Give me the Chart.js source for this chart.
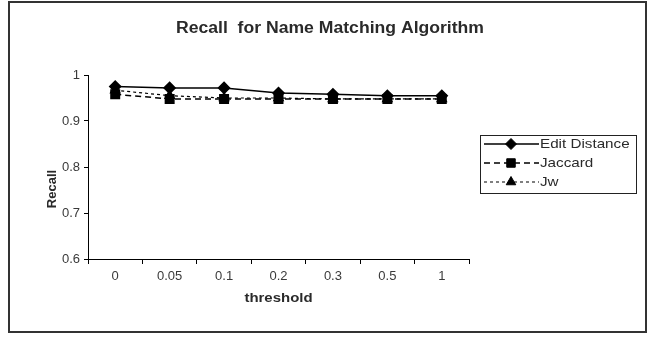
<!DOCTYPE html>
<html>
<head>
<meta charset="utf-8">
<script src="https://cdn.jsdelivr.net/npm/chart.js@4.4.1/dist/chart.umd.min.js"></script>
<style>
  html, body { margin: 0; padding: 0; background: #fff; }
  #wrap { position: relative; width: 652px; height: 337px; }
</style>
</head>
<body>
<div id="wrap"><canvas id="c" width="652" height="337"></canvas></div>
<script>
// Threshold categories and recall per algorithm
const thresholds = ['0', '0.05', '0.1', '0.2', '0.3', '0.5', '1'];
const editDistance = [0.975, 0.972, 0.972, 0.961, 0.958, 0.955, 0.955];
const jaccard      = [0.958, 0.948, 0.948, 0.948, 0.948, 0.948, 0.948];
const jw           = [0.967, 0.955, 0.950, 0.950, 0.948, 0.948, 0.948];
const recallTicks  = [0.6, 0.7, 0.8, 0.9, 1];

const FONT = 'Liberation Sans, Arial, sans-serif';
const TEXT = '#2a2a2a';

// Draws text a little wider than the font's natural width
function wideText(ctx, text, x, y, sx) {
  ctx.save();
  ctx.translate(x, y);
  ctx.scale(sx, 1);
  ctx.fillText(text, 0, 0);
  ctx.restore();
}

// Frame, title, axis titles and the boxed legend
const decorations = {
  id: 'decorations',
  afterDraw(chart) {
    const ctx = chart.ctx;
    const area = chart.chartArea;
    ctx.save();
    // outer frame
    ctx.strokeStyle = '#333';
    ctx.lineWidth = 2;
    ctx.strokeRect(9, 2, 637, 330);

    // title
    ctx.fillStyle = TEXT;
    ctx.font = 'bold 16px ' + FONT;
    ctx.textAlign = 'center';
    ctx.textBaseline = 'middle';
    wideText(ctx, 'Recall  for Name Matching Algorithm', 330, 29, 1.1);

    // x title
    ctx.font = 'bold 13px ' + FONT;
    wideText(ctx, 'threshold', (area.left + area.right) / 2, 298, 1.15);

    // y title
    ctx.save();
    ctx.translate(52, 189);
    ctx.rotate(-Math.PI / 2);
    ctx.fillText('Recall', 0, 0);
    ctx.restore();

    // legend
    ctx.lineWidth = 1;
    ctx.strokeStyle = '#222';
    ctx.strokeRect(480.5, 135.5, 156, 58);
    const rows = [144, 163, 182];
    chart.data.datasets.forEach((ds, i) => {
      const y = rows[i];
      ctx.save();
      ctx.strokeStyle = '#000';
      ctx.lineWidth = ds.borderWidth;
      ctx.setLineDash(ds.borderDash || []);
      ctx.beginPath();
      ctx.moveTo(484, y);
      ctx.lineTo(539, y);
      ctx.stroke();
      ctx.restore();
      ctx.fillStyle = '#000';
      ctx.strokeStyle = '#000';
      Chart.helpers.drawPoint(ctx, {
        pointStyle: ds.pointStyle,
        radius: ds.pointRadius,
        rotation: 0,
        borderWidth: 1
      }, 511, y);
      ctx.fillStyle = TEXT;
      ctx.font = '13px ' + FONT;
      ctx.textAlign = 'left';
      wideText(ctx, ds.label, 540, y, 1.17);
    });
    ctx.restore();
  }
};

new Chart(document.getElementById('c'), {
  type: 'line',
  data: {
    labels: thresholds,
    datasets: [
      {
        label: 'Edit Distance', data: editDistance,
        borderColor: '#000', backgroundColor: '#000', borderWidth: 1.5,
        pointStyle: 'rectRot', pointRadius: 5.5, order: 3
      },
      {
        label: 'Jaccard', data: jaccard,
        borderColor: '#000', backgroundColor: '#000', borderWidth: 1.5,
        borderDash: [6, 4], pointStyle: 'rect', pointRadius: 6, order: 1
      },
      {
        label: 'Jw', data: jw,
        borderColor: '#000', backgroundColor: '#000', borderWidth: 1.2,
        borderDash: [3, 3], pointStyle: 'triangle', pointRadius: 5.5, order: 2
      }
    ]
  },
  options: {
    responsive: false,
    animation: false,
    layout: { padding: { left: 0, right: 183, top: 75, bottom: 0 } },
    plugins: { legend: { display: false }, tooltip: { enabled: false }, title: { display: false } },
    elements: { line: { tension: 0 } },
    scales: {
      x: {
        type: 'category',
        offset: true,
        grid: { offset: true, drawOnChartArea: false, drawTicks: true, tickLength: 5, color: '#000' },
        border: { color: '#000', width: 1 },
        ticks: { color: '#3a3a3a', font: { family: FONT, size: 13 }, padding: 5, maxRotation: 0 },
        afterFit(scale) { scale.height = 78; }
      },
      y: {
        min: 0.6, max: 1,
        afterBuildTicks(scale) { scale.ticks = recallTicks.map(v => ({ value: v })); },
        grid: { drawOnChartArea: false, drawTicks: true, tickLength: 4, color: '#000' },
        border: { color: '#000', width: 1 },
        ticks: {
          color: '#3a3a3a', font: { family: FONT, size: 13 }, padding: 4,
          callback: v => String(Math.round(v * 10) / 10)
        },
        afterFit(scale) { scale.width = 88; }
      }
    }
  },
  plugins: [decorations]
});
</script>
</body>
</html>
